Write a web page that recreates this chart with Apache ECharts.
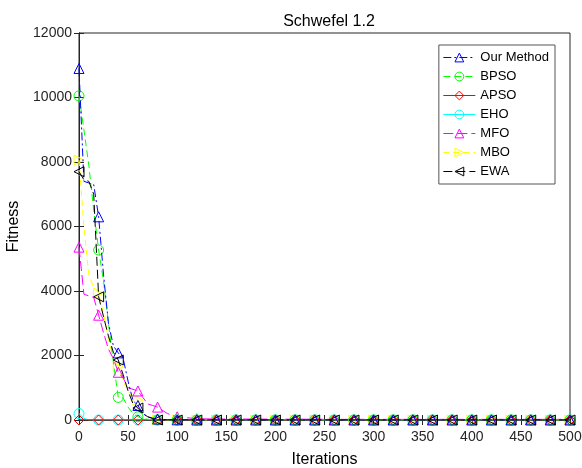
<!DOCTYPE html>
<html><head><meta charset="utf-8">
<script src="https://cdn.jsdelivr.net/npm/echarts@6/dist/echarts.min.js"></script>
<style>html,body{margin:0;padding:0;background:#fff}#c{width:582px;height:468px}</style>
</head><body><div id="c"></div>
<script>
var iterations = [0,5,10,15,20,25,30,35,40,45,50,55,60,65,70,75,80,90,100,120,140,160,180,200,220,240,260,280,300,320,340,360,380,400,420,440,460,480,500];
var ourMethod = [10900,7400,7350,7300,6300,4500,3000,2300,2080,1900,1200,600,450,200,100,50,30,10,5,0,0,0,0,0,0,0,0,0,0,0,0,0,0,0,0,0,0,0,0];
var bpso = [10050,9000,7900,6500,5270,4300,3000,1800,700,680,400,200,100,50,20,10,0,0,0,0,0,0,0,0,0,0,0,0,0,0,0,0,0,0,0,0,0,0,0];
var apso = [0,0,0,0,0,0,0,0,0,0,0,0,0,0,0,0,0,0,0,0,0,0,0,0,0,0,0,0,0,0,0,0,0,0,0,0,0,0,0];
var eho = [200,50,0,0,0,0,0,0,0,0,0,0,0,0,0,0,0,0,0,0,0,0,0,0,0,0,0,0,0,0,0,0,0,0,0,0,0,0,0];
var mfo = [5360,3900,3850,3800,3250,2700,2200,1900,1480,1300,1000,950,900,700,500,450,400,200,100,40,30,30,30,25,25,25,20,20,20,20,20,20,20,20,20,20,20,20,20];
var mbo = [8060,6000,4500,4100,3930,3300,2500,1900,1650,1200,900,700,620,300,100,50,0,0,0,0,0,0,0,0,0,0,0,0,0,0,0,0,0,0,0,0,0,0,0];
var ewa = [7700,7450,7400,7000,3820,3200,2600,2100,1860,1400,900,500,370,200,100,50,0,0,0,0,0,0,0,0,0,0,0,0,0,0,0,0,0,0,0,0,0,0,0];
var xTicks = [0,50,100,150,200,250,300,350,400,450,500];
var yTicks = [0,2000,4000,6000,8000,10000,12000];

function pairs(arr){
  return iterations.map(function(x,i){
    var d = {value: [x, arr[i]]};
    if (x % 20 !== 0) d.symbol = 'none';
    return d;
  });
}
function mk(name, arr, color, symbol, rot, dash, z){
  return {
    name: name, type: 'line', data: pairs(arr),
    symbol: symbol, symbolSize: 10, symbolRotate: rot, z: z,
    showAllSymbol: true,
    lineStyle: {color: color, width: 1, type: dash},
    itemStyle: {color: 'rgba(255,255,255,0)', borderColor: color, borderWidth: 1},
    emphasis: {disabled: true}, animation: false
  };
}
var font = 'Liberation Sans, Arial, sans-serif';
var chart = echarts.init(document.getElementById('c'));
chart.setOption({
  backgroundColor: '#fff',
  animation: false,
  title: {text: 'Schwefel 1.2', left: 324, top: 9, textAlign: 'center',
    textStyle: {fontFamily: font, fontSize: 16, fontWeight: 'normal', color: '#000'}},
  grid: {left: 79, right: 12, top: 33, bottom: 48, containLabel: false, outerBoundsMode: 'none',
    show: true, borderColor: '#262626', borderWidth: 1},
  legend: {
    right: 27, top: 45, orient: 'vertical', itemGap: 6, itemWidth: 32, itemHeight: 11,
    padding: [6, 6, 6, 4], borderColor: '#555', borderWidth: 1, backgroundColor: '#fff',
    lineStyle: {width: 1}, itemStyle: {borderWidth: 1},
    textStyle: {fontFamily: font, fontSize: 13, color: '#000'},
    data: ['Our Method','BPSO','APSO','EHO','MFO','MBO','EWA']
  },
  xAxis: [{
    type: 'value', min: 0, max: 500, interval: 50,
    name: 'Iterations', nameLocation: 'middle', nameGap: 32,
    nameTextStyle: {fontFamily: font, fontSize: 16, color: '#000'},
    axisLine: {show: true, lineStyle: {color: '#262626'}},
    axisTick: {show: true, inside: true, length: 5, lineStyle: {color: '#262626'}},
    axisLabel: {fontFamily: font, fontSize: 14, color: '#262626', margin: 10},
    splitLine: {show: false}
  },{
    type: 'value', min: 0, max: 500, interval: 50, position: 'top',
    axisLine: {show: true, lineStyle: {color: '#262626'}},
    axisTick: {show: true, inside: true, length: 5, lineStyle: {color: '#262626'}},
    axisLabel: {show: false}, splitLine: {show: false}
  }],
  yAxis: [{
    type: 'value', min: 0, max: 12000, interval: 2000,
    name: 'Fitness', nameLocation: 'middle', nameGap: 57,
    nameTextStyle: {fontFamily: font, fontSize: 16, color: '#000'},
    axisLine: {show: true, lineStyle: {color: '#262626'}},
    axisTick: {show: true, inside: true, length: 5, lineStyle: {color: '#262626'}},
    axisLabel: {fontFamily: font, fontSize: 14, color: '#262626', margin: 7,
      formatter: function(v){ return String(v); }},
    splitLine: {show: false}
  },{
    type: 'value', min: 0, max: 12000, interval: 2000, position: 'right',
    axisLine: {show: true, lineStyle: {color: '#262626'}},
    axisTick: {show: true, inside: true, length: 5, lineStyle: {color: '#262626'}},
    axisLabel: {show: false}, splitLine: {show: false}
  }],
  series: [
    mk('Our Method', ourMethod, '#0000ff', 'triangle', 0, [8,3,2,3], 10),
    mk('BPSO', bpso, '#00ff00', 'circle', 0, [7,4], 9),
    mk('APSO', apso, '#ff0000', 'diamond', 0, 'solid', 8),
    mk('EHO', eho, '#00ffff', 'circle', 0, 'solid', 7),
    mk('MFO', mfo, '#ff00ff', 'triangle', 0, [10,4], 6),
    mk('MBO', mbo, '#ffff00', 'triangle', -90, [6,4], 5),
    mk('EWA', ewa, '#000000', 'triangle', 90, [9,4], 11)
  ]
});
</script></body></html>
